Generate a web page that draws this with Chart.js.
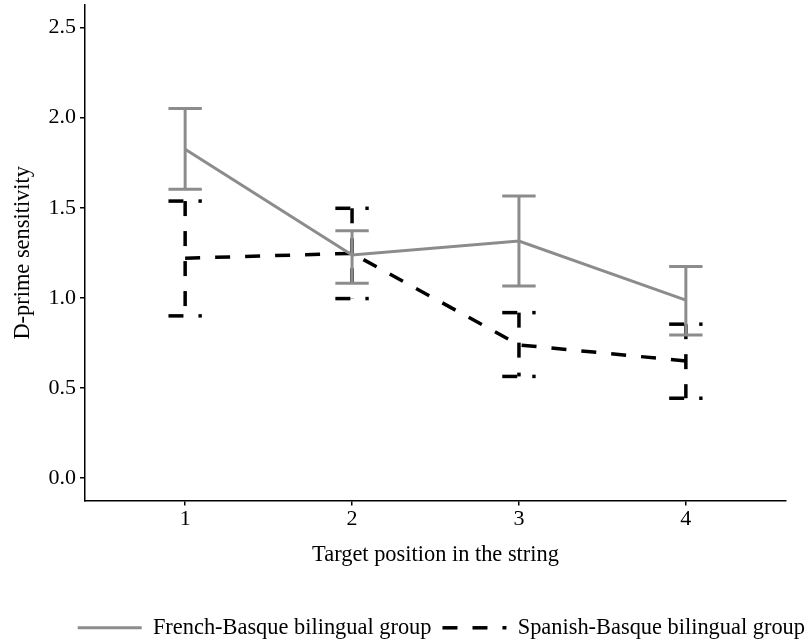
<!DOCTYPE html>
<html>
<head>
<meta charset="utf-8">
<script src="https://cdn.jsdelivr.net/npm/chart.js@4.4.1/dist/chart.umd.min.js"></script>
<style>
  html, body { margin: 0; padding: 0; background: #fff; }
  #wrap { width: 811px; height: 642px; }
</style>
</head>
<body>
<div id="wrap"><canvas id="dprimeChart"></canvas></div>
<script>
// target positions (x) and d' means with error bar bounds per group
const positions = [1, 2, 3, 4];
const frenchMean = [1.824, 1.238, 1.315, 0.987];
const frenchLow = [1.602, 1.081, 1.066, 0.794];
const frenchHigh = [2.051, 1.373, 1.565, 1.174];
const spanishMean = [1.220, 1.247, 0.739, 0.650];
const spanishLow = [0.900, 0.996, 0.564, 0.443];
const spanishHigh = [1.537, 1.497, 0.918, 0.854];
const yTicks = [0, 0.5, 1, 1.5, 2, 2.5];

const capHalf = 0.1; // half width of the error bar caps, in x units
const barRanges = [
    { low: frenchLow, high: frenchHigh },
    { low: spanishLow, high: spanishHigh }
];

Chart.defaults.font.family = "'Liberation Serif', 'Times New Roman', serif";
Chart.defaults.font.size = 22;
Chart.defaults.color = '#000';

// draws each group's error bars right after its line, same colour and dash
const errorBarPlugin = {
    id: 'errorBars',
    afterDatasetDraw(chart, args) {
        const ds = chart.data.datasets[args.index];
        const bars = barRanges[args.index];
        const { ctx, scales: { x, y } } = chart;
        ctx.save();
        ctx.strokeStyle = ds.borderColor;
        ctx.lineWidth = ds.borderWidth;
        ctx.lineCap = 'butt';
        ctx.setLineDash(ds.borderDash || []);
        positions.forEach((p, i) => {
            const xl = x.getPixelForValue(p - capHalf);
            const xc = x.getPixelForValue(p);
            const xr = x.getPixelForValue(p + capHalf);
            const yh = y.getPixelForValue(bars.high[i]);
            const yl = y.getPixelForValue(bars.low[i]);
            [[xl, yh, xr, yh], [xc, yh, xc, yl], [xl, yl, xr, yl]].forEach(([x0, y0, x1, y1]) => {
                ctx.beginPath();
                ctx.moveTo(x0, y0);
                ctx.lineTo(x1, y1);
                ctx.stroke();
            });
        });
        ctx.restore();
    }
};

const axisLine = { color: '#000', width: 1.5 };
const tickMarks = { drawOnChartArea: false, drawTicks: true, tickLength: 5, color: '#000', lineWidth: 1.5 };

const ctx = document.getElementById('dprimeChart').getContext('2d');
const dprimeChart = new Chart(ctx, {
    type: 'line',
    data: {
        datasets: [{
            label: 'French-Basque bilingual group',
            data: positions.map((p, i) => ({ x: p, y: frenchMean[i] })),
            borderColor: '#8c8c8c',
            borderWidth: 3,
            borderCapStyle: 'butt',
            pointRadius: 0,
            fill: false,
            tension: 0
        }, {
            label: 'Spanish-Basque bilingual group',
            data: positions.map((p, i) => ({ x: p, y: spanishMean[i] })),
            borderColor: '#000',
            borderWidth: 3.5,
            borderDash: [15, 15],
            borderCapStyle: 'butt',
            pointRadius: 0,
            fill: false,
            tension: 0
        }]
    },
    options: {
        responsive: true,
        maintainAspectRatio: false,
        animation: false,
        layout: {
            // legend runs slightly past the right edge
            padding: { top: 5, bottom: -7, left: 0, right: -5 }
        },
        plugins: {
            tooltip: { enabled: false },
            legend: {
                position: 'bottom',
                align: 'end',
                labels: {
                    usePointStyle: true,
                    pointStyle: 'line',
                    pointStyleWidth: 64,
                    padding: 11,
                    color: '#000',
                    font: { size: 22.4 },
                    // point style drops the dash, so take it from the dataset
                    generateLabels: chart => {
                        const items = Chart.defaults.plugins.legend.labels.generateLabels(chart);
                        items.forEach(item => {
                            const ds = chart.data.datasets[item.datasetIndex];
                            item.lineDash = ds.borderDash || [];
                            item.lineWidth = ds.borderWidth;
                            item.strokeStyle = ds.borderColor;
                        });
                        return items;
                    }
                }
            }
        },
        scales: {
            x: {
                type: 'linear',
                min: 0.4,
                max: 4.6,
                afterBuildTicks: s => { s.ticks = positions.map(v => ({ value: v })); },
                afterFit: s => { s.height = 105; },
                ticks: { padding: 0, color: '#000', font: { size: 22 } },
                grid: tickMarks,
                border: axisLine,
                title: {
                    display: true,
                    text: 'Target position in the string',
                    color: '#000',
                    font: { size: 22.4 },
                    padding: { top: 0, bottom: 37 }
                }
            },
            y: {
                type: 'linear',
                min: -0.125,
                max: 2.625,
                afterBuildTicks: s => { s.ticks = yTicks.map(v => ({ value: v })); },
                afterFit: s => {
                    s.width = 85;
                    s.paddingTop = 0;
                    s.paddingBottom = 0;
                },
                ticks: {
                    padding: 4,
                    color: '#000',
                    font: { size: 22 },
                    callback: v => v.toFixed(1)
                },
                grid: tickMarks,
                border: axisLine,
                title: {
                    display: true,
                    text: 'D-prime sensitivity',
                    color: '#000',
                    font: { size: 22.4 },
                    padding: { top: 10, bottom: 0 }
                }
            },
            // empty strip on the right so the panel stops short of the edge
            gap: {
                type: 'linear',
                position: 'right',
                display: true,
                grid: { display: false },
                border: { display: false },
                ticks: { display: false },
                afterFit: s => { s.width = 30; }
            }
        }
    },
    plugins: [errorBarPlugin]
});
</script>
</body>
</html>
